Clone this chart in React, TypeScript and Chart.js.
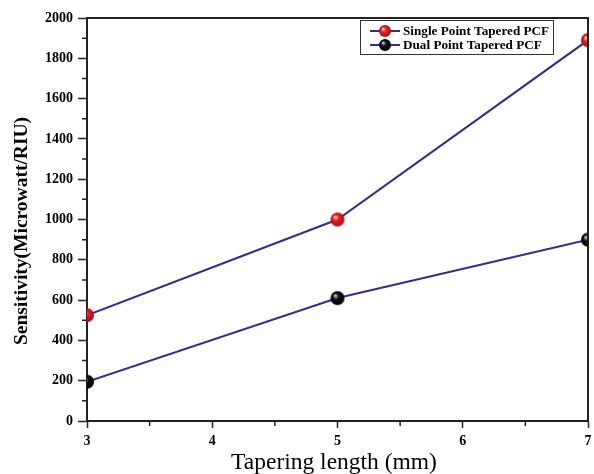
import React, { useEffect, useRef } from 'react';
import { Chart, registerables } from 'chart.js';

Chart.register(...registerables);

const lengths = [3, 5, 7];
const singlePoint = [525, 1000, 1890];
const dualPoint = [195, 610, 900];
const seriesLabels = ['Single Point Tapered PCF', 'Dual Point Tapered PCF'];
const xTitle = 'Tapering length (mm)';
const yTitle = 'Sensitivity(Microwatt/RIU)';
const xMinorTicks = [3.5, 4.5, 5.5, 6.5];
const yMinorTicks = [100, 300, 500, 700, 900, 1100, 1300, 1500, 1700, 1900];

const SERIF = '"Liberation Serif", "Times New Roman", serif';
const LINE = '#3a2a8e';

function makeSphere(base: string, light: string, dark: string, r: number) {
  const c = document.createElement('canvas');
  const s = r * 2 + 2;
  c.width = s;
  c.height = s;
  const ctx = c.getContext('2d')!;
  const cx = s / 2, cy = s / 2;
  const g = ctx.createRadialGradient(cx - r * 0.35, cy - r * 0.4, r * 0.05, cx, cy, r);
  g.addColorStop(0, light);
  g.addColorStop(0.4, base);
  g.addColorStop(1, dark);
  ctx.fillStyle = g;
  ctx.beginPath();
  ctx.arc(cx, cy, r, 0, Math.PI * 2);
  ctx.fill();
  return c;
}

export default function App() {
  const ref = useRef<HTMLCanvasElement>(null);
  useEffect(() => {
    document.body.style.margin = '0';
    document.body.style.overflow = 'hidden';
    document.documentElement.style.overflow = 'hidden';
    const redBall = makeSphere('#e62025', '#ffd0d0', '#a80f12', 7);
    const blackBall = makeSphere('#111111', '#d0d0d0', '#000000', 7);
    const redSmall = makeSphere('#e62025', '#ffd0d0', '#a80f12', 6);
    const blackSmall = makeSphere('#111111', '#d0d0d0', '#000000', 6);

    const extras = {
      id: 'extras',
      afterDraw(chart: any) {
        const ctx = chart.ctx;
        const a = chart.chartArea;
        const xs = chart.scales.x;
        const ys = chart.scales.y;
        ctx.save();
        // frame top & right
        ctx.strokeStyle = '#222';
        ctx.lineWidth = 2;
        ctx.beginPath();
        ctx.moveTo(a.left, a.top);
        ctx.lineTo(a.right, a.top);
        ctx.lineTo(a.right, a.bottom);
        ctx.stroke();
        // minor ticks
        ctx.lineWidth = 1.5;
        ctx.beginPath();
        xMinorTicks.forEach(v => {
          const px = xs.getPixelForValue(v);
          ctx.moveTo(px, a.bottom);
          ctx.lineTo(px, a.bottom + 5);
        });
        yMinorTicks.forEach(v => {
          const py = ys.getPixelForValue(v);
          ctx.moveTo(a.left, py);
          ctx.lineTo(a.left - 5, py);
        });
        ctx.stroke();
        // axis titles
        ctx.fillStyle = '#000';
        ctx.textAlign = 'center';
        ctx.textBaseline = 'middle';
        ctx.font = `23.5px ${SERIF}`;
        ctx.fillText(xTitle, 334, 463);
        ctx.save();
        ctx.translate(22, 231);
        ctx.rotate(-Math.PI / 2);
        ctx.font = `bold 19.5px ${SERIF}`;
        ctx.fillText(yTitle, 0, 0);
        ctx.restore();
        // legend
        const lx = 360, ly = 20, lw = 193, lh = 34;
        ctx.fillStyle = '#fff';
        ctx.fillRect(lx, ly, lw, lh);
        ctx.strokeStyle = '#333';
        ctx.lineWidth = 1;
        ctx.strokeRect(lx + 0.5, ly + 0.5, lw, lh);
        const rows = [31, 45];
        const imgs = [redSmall, blackSmall];
        rows.forEach((ry, i) => {
          ctx.strokeStyle = LINE;
          ctx.lineWidth = 2;
          ctx.beginPath();
          ctx.moveTo(370, ry);
          ctx.lineTo(400, ry);
          ctx.stroke();
          const im = imgs[i];
          ctx.drawImage(im, 385 - im.width / 2, ry - im.height / 2);
          ctx.fillStyle = '#000';
          ctx.textAlign = 'left';
          ctx.font = `bold 13.2px ${SERIF}`;
          ctx.fillText(chart.data.datasets[i].label, 403, ry + 1);
        });
        ctx.restore();
      },
    };

    const chart = new Chart(ref.current!, {
      type: 'line',
      data: {
        datasets: [
          {
            label: seriesLabels[0],
            data: lengths.map((x, i) => ({ x, y: singlePoint[i] })),
            borderColor: LINE,
            borderWidth: 2,
            pointStyle: redBall as any,
            pointRadius: 7,
            clip: 0,
          },
          {
            label: seriesLabels[1],
            data: lengths.map((x, i) => ({ x, y: dualPoint[i] })),
            borderColor: LINE,
            borderWidth: 2,
            pointStyle: blackBall as any,
            pointRadius: 7,
            clip: 0,
          },
        ],
      },
      options: {
        animation: false,
        responsive: false,
        layout: { padding: { top: 18, right: 0, left: 0, bottom: 0 } },
        plugins: { legend: { display: false }, tooltip: { enabled: false } },
        scales: {
          x: {
            type: 'linear',
            min: 3,
            max: 7,
            afterFit: (s: any) => { s.height = 53; },
            ticks: {
              stepSize: 1,
              padding: 5,
              color: '#000',
              font: { family: SERIF, size: 14, weight: 'bold' },
            },
            grid: { drawOnChartArea: false, tickLength: 7, tickColor: '#222', tickWidth: 1.5 },
            border: { color: '#222', width: 2 },
          },
          y: {
            min: 0,
            max: 2000,
            afterFit: (s: any) => { s.width = 87; },
            ticks: {
              stepSize: 200,
              padding: 5,
              color: '#000',
              font: { family: SERIF, size: 14, weight: 'bold' },
              callback: (v: any) => String(v),
            },
            grid: { drawOnChartArea: false, tickLength: 9, tickColor: '#222', tickWidth: 1.5 },
            border: { color: '#222', width: 2 },
          },
        },
      },
      plugins: [extras],
    });
    return () => chart.destroy();
  }, []);
  return (
    <div style={{ width: 594, height: 474, background: '#fff', overflow: 'hidden' }}>
      <canvas ref={ref} width={597} height={474} style={{ display: 'block' }} />
    </div>
  );
}
